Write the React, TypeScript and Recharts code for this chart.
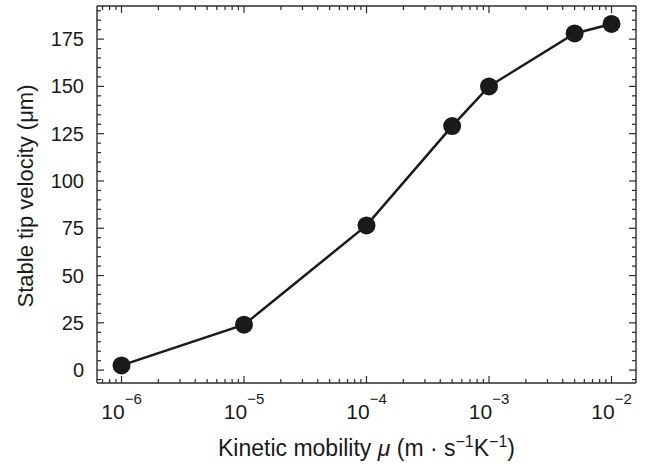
import { Line, LineChart, XAxis, YAxis } from "recharts";

const mobility = [1e-6, 1e-5, 1e-4, 5e-4, 1e-3, 5e-3, 1e-2];
const tipVelocity = [2.5, 24, 76.5, 129, 150, 178, 183];

const majorXTicks = [1e-6, 1e-5, 1e-4, 1e-3, 1e-2];
const xExponents = [-6, -5, -4, -3, -2];
const minorXTicks = [
  7e-7, 8e-7, 9e-7,
  ...[1e-6, 1e-5, 1e-4, 1e-3].flatMap((d) => [2, 3, 4, 5, 6, 7, 8, 9].map((m) => m * d)),
];
const yMajorTicks = [0, 25, 50, 75, 100, 125, 150, 175];
const yTicks = [
  -5, 0, 5, 10, 15, 20, 25, 30, 35, 40, 45, 50, 55, 60, 65, 70, 75, 80, 85, 90, 95,
  100, 105, 110, 115, 120, 125, 130, 135, 140, 145, 150, 155, 160, 165, 170, 175, 180, 185, 190,
];

const data = mobility.map((m, i) => ({ mobility: m, velocity: tipVelocity[i] }));

const xDomain = [Math.pow(10, -6.2), Math.pow(10, -1.8)];
const yDomain = [-6.8, 192.5];

// plot box edges (px)
const LEFT = 97;
const RIGHT = 636;
const TOP = 6;
const BOTTOM = 383;

const font = "'Liberation Sans', Arial, sans-serif";
const ink = "#1a1a1a";
const frame = "#2b2b2b";

const isMajorX = (v: number) => {
  const l = Math.log10(v);
  return Math.abs(l - Math.round(l)) < 1e-6;
};

function BottomTick(props: any) {
  const { x, payload } = props;
  const v = payload.value;
  const major = isMajorX(v);
  const len = major ? 7 : 4;
  const idx = majorXTicks.findIndex((t) => Math.abs(Math.log10(t) - Math.log10(v)) < 1e-6);
  return (
    <g>
      <line x1={x} x2={x} y1={BOTTOM} y2={BOTTOM - len} stroke={frame} strokeWidth={1.2} />
      {major && idx >= 0 && (
        <text x={x} y={BOTTOM + 36} textAnchor="middle" fontSize={21} fill={ink} fontFamily={font}>
          10
          <tspan dy={-15} fontSize={15}>
            {"\u2212" + Math.abs(xExponents[idx])}
          </tspan>
        </text>
      )}
    </g>
  );
}

function TopTick(props: any) {
  const { x, payload } = props;
  const len = isMajorX(payload.value) ? 7 : 4;
  return <line x1={x} x2={x} y1={TOP} y2={TOP + len} stroke={frame} strokeWidth={1.2} />;
}

function LeftTick(props: any) {
  const { y, payload } = props;
  const major = yMajorTicks.includes(payload.value);
  const len = major ? 7 : 4;
  return (
    <g>
      <line x1={LEFT} x2={LEFT + len} y1={y} y2={y} stroke={frame} strokeWidth={1.2} />
      {major && (
        <text x={LEFT - 13} y={y + 7} textAnchor="end" fontSize={20} fill={ink} fontFamily={font}>
          {payload.value}
        </text>
      )}
    </g>
  );
}

function RightTick(props: any) {
  const { y, payload } = props;
  const len = yMajorTicks.includes(payload.value) ? 7 : 4;
  return <line x1={RIGHT} x2={RIGHT - len} y1={y} y2={y} stroke={frame} strokeWidth={1.2} />;
}

function XTitle() {
  return (
    <text
      x={(LEFT + RIGHT) / 2}
      y={BOTTOM + 73}
      textAnchor="middle"
      fontSize={23}
      fill={ink}
      fontFamily={font}
    >
      Kinetic mobility <tspan fontStyle="italic">μ</tspan> (m · s
      <tspan dy={-9} fontSize={16}>
        −1
      </tspan>
      <tspan dy={9}>K</tspan>
      <tspan dy={-9} fontSize={16}>
        −1
      </tspan>
      <tspan dy={9}>)</tspan>
    </text>
  );
}

function YTitle() {
  const cx = 33;
  const cy = 196;
  return (
    <text
      x={cx}
      y={cy}
      transform={`rotate(-90, ${cx}, ${cy})`}
      textAnchor="middle"
      fontSize={22}
      fill={ink}
      fontFamily={font}
    >
      Stable tip velocity (μm)
    </text>
  );
}

export default function App() {
  return (
    <div style={{ position: "absolute", left: 0, top: 0, width: 657, height: 468, background: "#fff" }}>
      <LineChart
        width={657}
        height={468}
        data={data}
        margin={{ top: TOP - 1, right: 657 - RIGHT - 1, bottom: 0, left: 0 }}
      >
        <XAxis
          dataKey="mobility"
          type="number"
          scale="log"
          domain={xDomain}
          allowDataOverflow
          ticks={[...majorXTicks, ...minorXTicks]}
          interval={0}
          tickLine={false}
          tick={<BottomTick />}
          axisLine={{ stroke: frame, strokeWidth: 1.4 }}
          height={468 - BOTTOM}
          label={<XTitle />}
        />
        <XAxis
          xAxisId="top"
          orientation="top"
          dataKey="mobility"
          type="number"
          scale="log"
          domain={xDomain}
          allowDataOverflow
          ticks={[...majorXTicks, ...minorXTicks]}
          interval={0}
          tickLine={false}
          tick={<TopTick />}
          axisLine={{ stroke: frame, strokeWidth: 1.4 }}
          height={1}
        />
        <YAxis
          type="number"
          domain={yDomain}
          allowDataOverflow
          ticks={yTicks}
          interval={0}
          tickLine={false}
          tick={<LeftTick />}
          axisLine={{ stroke: frame, strokeWidth: 1.4 }}
          width={LEFT}
          label={<YTitle />}
        />
        <YAxis
          yAxisId="right"
          orientation="right"
          type="number"
          domain={yDomain}
          allowDataOverflow
          ticks={yTicks}
          interval={0}
          tickLine={false}
          tick={<RightTick />}
          axisLine={{ stroke: frame, strokeWidth: 1.4 }}
          width={1}
        />
        <Line
          dataKey="velocity"
          stroke={ink}
          strokeWidth={2.5}
          dot={{ r: 9, fill: ink, stroke: "none" }}
          activeDot={false}
          isAnimationActive={false}
        />
      </LineChart>
    </div>
  );
}
